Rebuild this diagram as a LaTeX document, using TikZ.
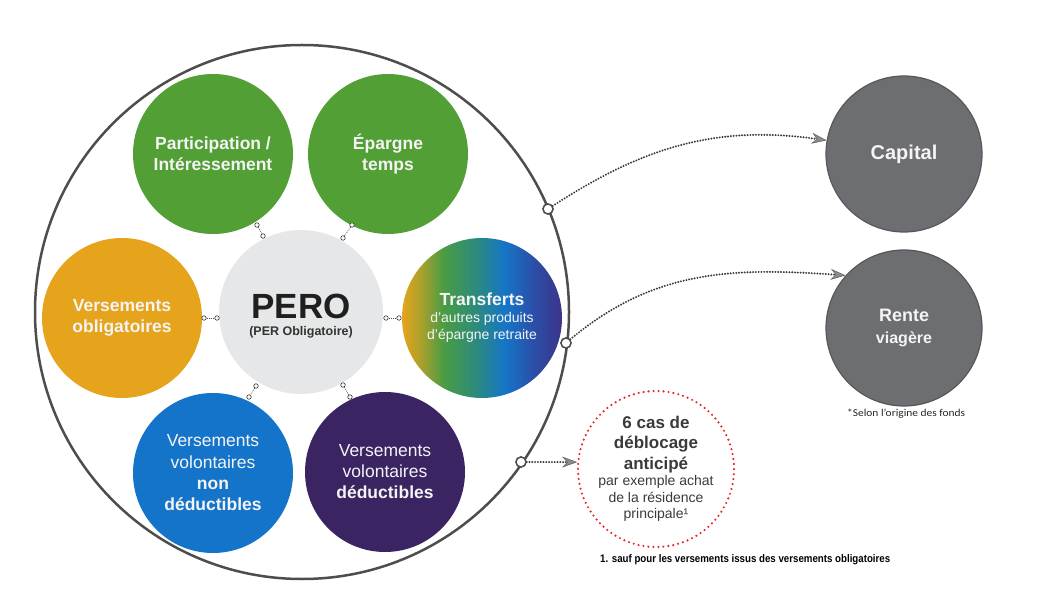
\documentclass[tikz,border=0pt]{standalone}
\usepackage{fontspec}
\setmainfont{Liberation Sans}
\newfontfamily\calib{Carlito}
\usepackage{graphicx}
\usetikzlibrary{arrows.meta}
\definecolor{cgreen}{HTML}{52A035}
\definecolor{corange}{HTML}{E6A41C}
\definecolor{cblue}{HTML}{1474C9}
\definecolor{cpurple}{HTML}{3A2462}
\definecolor{cpero}{HTML}{E6E7E8}
\definecolor{cgrey}{HTML}{6D6E71}
\definecolor{cgreyd}{HTML}{57585A}
\definecolor{cline}{HTML}{4D4D4D}
\definecolor{cdot}{HTML}{3C3C3C}
\definecolor{ctext}{HTML}{F4F4F4}
\definecolor{cred}{HTML}{E8262B}
\definecolor{cdark}{HTML}{3A3A3A}
\definecolor{tipfill}{HTML}{8C8C8C}
\definecolor{tipdraw}{HTML}{666666}
\definecolor{tA}{HTML}{E6A41C}
\definecolor{tB}{HTML}{A9A02C}
\definecolor{tC}{HTML}{4A9C44}
\definecolor{tD}{HTML}{2C8B7C}
\definecolor{tE}{HTML}{1576C8}
\definecolor{tF}{HTML}{2B4FA8}
\definecolor{tG}{HTML}{3B3489}
\pgfdeclarehorizontalshading{transf}{100bp}{color(0bp)=(tA); color(25bp)=(tA); color(31bp)=(tB); color(38bp)=(tC); color(48bp)=(tD); color(57bp)=(tE); color(66bp)=(tF); color(75bp)=(tG); color(100bp)=(tG)}
\begin{document}
\begin{tikzpicture}[x=1pt,y=-1pt,
  sat/.style={circle, minimum size=160pt, inner sep=0pt, align=center, text=ctext,
    font=\fontsize{17.5}{21}\selectfont\bfseries},
  outcirc/.style={circle, minimum size=156pt, inner sep=0pt, align=center, text=ctext,
    fill=cgrey, draw=cgreyd, line width=1.2pt, font=\bfseries},
  anchordot/.style={circle, draw=cline, fill=white, line width=1.4pt, minimum size=10pt, inner sep=0pt},
  linkdot/.style={circle, draw=black!80, fill=white, line width=0.6pt, minimum size=4.5pt, inner sep=0pt},
  linkline/.style={draw=black!70, line width=0.6pt, dash pattern=on 1pt off 1pt},
  flow/.style={draw=cdot, line width=2.2pt, dash pattern=on 0pt off 2.8pt, line cap=round,
    -{Stealth[length=15pt,width=11pt,inset=5pt,color=tipdraw,fill=tipfill,line width=0.6pt]}},
]
\useasboundingbox (0,0) rectangle (1060,593);

% outer circle
\node[circle, draw=cline, line width=2.5pt, minimum size=534pt, inner sep=0pt] (outer) at (302,312) {};

% centre
\node[circle, fill=cpero, minimum size=164pt, inner sep=0pt] (pero) at (301,312) {};
\node[anchor=base, inner sep=0pt, text={black!88}, font=\fontsize{35}{36}\selectfont\bfseries] (perot) at (301,319) {PERO};
\node[anchor=base, inner sep=0pt, text={black!80}, font=\fontsize{12.5}{14}\selectfont\bfseries] (perost) at (301,336) {(PER Obligatoire)};

% satellites
\node[sat, fill=cgreen] (part) at (213,154) {Participation /\\Intéressement};
\node[sat, fill=cgreen] (epar) at (388,154) {Épargne\\temps};
\node[sat, fill=corange] (vobl) at (122,318) {Versements\\obligatoires};
\node[sat, shade, shading=transf, font=\fontsize{14}{17}\selectfont] (trans) at (482,318)
  {{\fontsize{17.5}{19}\selectfont\bfseries Transferts}\\d’autres produits\\d’épargne retraite};
\node[sat, fill=cblue, font=\fontsize{17.5}{21.3}\selectfont] (vnd) at (213,473)
  {Versements\\volontaires\\\textbf{non}\\\textbf{déductibles}};
\node[sat, fill=cpurple, font=\fontsize{17.5}{21}\selectfont] (vd) at (385,472)
  {Versements\\volontaires\\\textbf{déductibles}};

% small links
\node[linkdot] (l1a) at (204,318) {};
\node[linkdot] (l1b) at (217,318) {};
\node[linkdot] (l2a) at (386,318) {};
\node[linkdot] (l2b) at (399,318) {};
\node[linkdot] (l3a) at (257,225) {};
\node[linkdot] (l3b) at (263,236) {};
\node[linkdot] (l4a) at (352,225) {};
\node[linkdot] (l4b) at (343,238) {};
\node[linkdot] (l5a) at (256,386) {};
\node[linkdot] (l5b) at (249,397) {};
\node[linkdot] (l6a) at (343,385) {};
\node[linkdot] (l6b) at (350,397) {};
\foreach \k in {1,...,6} { \draw[linkline] (l\k a) -- (l\k b); }

% outputs
\node[outcirc, font=\fontsize{20}{22}\selectfont\bfseries] (cap) at (904,154) {Capital};
\node[outcirc, font=\fontsize{18}{22}\selectfont\bfseries] (rente) at (904,328)
  {Rente\\{\fontsize{16}{18}\selectfont viagère}};
\node[circle, draw=cred, line width=2.4pt, dash pattern=on 0pt off 5pt, line cap=round,
  minimum size=152pt, inner sep=0pt, align=center, text=cdark,
  font=\fontsize{14}{16.5}\selectfont] (red) at (656,469)
  {{\fontsize{17}{18}\selectfont\bfseries 6 cas de}\\[4pt]{\fontsize{17}{18}\selectfont\bfseries déblocage}\\[4pt]{\fontsize{17}{18}\selectfont\bfseries anticipé}\\par exemple achat\\de la résidence\\principale¹};

% anchors on outer circle
\node[anchordot] (a1) at (548,209) {};
\node[anchordot] (a2) at (566,343) {};
\node[anchordot] (a3) at (521,462) {};

\draw[flow] (a1) to[out=33, in=172] (cap.170);
\draw[flow] (a2) to[out=40, in=176] (rente.138);
\draw[flow] (a3) -- (red.175);
\node[anchordot] at (a1) {};
\node[anchordot] at (a2) {};
\node[anchordot] at (a3) {};

% notes
\node[anchor=base west, inner sep=0pt, text=black!85] (selon) at (847,417)
  {\resizebox{118pt}{\height}{\calib\fontsize{10.5}{12}\selectfont *Selon l’origine des fonds}};
\node[anchor=base west, inner sep=0pt, text=black] (foot) at (600,562)
  {\resizebox{290pt}{\height}{\fontsize{11}{13}\selectfont\bfseries 1. sauf pour les versements issus des versements obligatoires}};
\end{tikzpicture}
\end{document}
